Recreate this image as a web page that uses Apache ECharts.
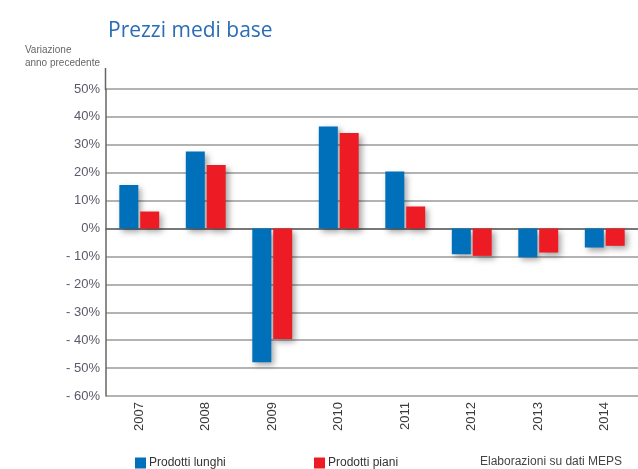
<!DOCTYPE html>
<html><head><meta charset="utf-8">
<script src="https://cdn.jsdelivr.net/npm/echarts@6/dist/echarts.min.js"></script>
<style>html,body{margin:0;padding:0;background:#fff}#c{width:638px;height:469px}</style>
</head><body><div id="c"></div>
<script>
const categories = ['2007','2008','2009','2010','2011','2012','2013','2014'];
const lunghi = [15.6, 27.6, -47.9, 36.6, 20.4, -9.2, -10.3, -6.8];
const piani = [6.1, 22.8, -39.6, 34.2, 7.9, -9.8, -8.6, -6.2];
const seriesNames = ['Prodotti lunghi', 'Prodotti piani'];
const yTicks = {min: -60, max: 50, interval: 10};

const FONT = '"Liberation Sans Narrow", "Liberation Sans", sans-serif';
const shadow = {shadowBlur: 6, shadowOffsetX: 3, shadowOffsetY: 3, shadowColor: 'rgba(0,0,0,0.35)'};
const chart = echarts.init(document.getElementById('c'));
chart.setOption({
  animation: false,
  title: {text: 'Prezzi medi base', left: 103, top: 16,
    textStyle: {fontFamily: '"Open Sans", sans-serif', fontWeight: 'normal', fontSize: 21, color: '#2a6db5'}},
  grid: {left: 106, right: 0, top: 89, bottom: 73},
  legend: [
    {data: [seriesNames[0]], left: 130, top: 452, icon: 'rect', itemWidth: 11, itemHeight: 11, itemGap: 4,
      textStyle: {fontFamily: FONT, fontSize: 12, color: '#333', padding: [0,0,0,-2]}},
    {data: [seriesNames[1]], left: 309, top: 452, icon: 'rect', itemWidth: 11, itemHeight: 11, itemGap: 4,
      textStyle: {fontFamily: FONT, fontSize: 12, color: '#333', padding: [0,0,0,-2]}}
  ],
  graphic: [
    {type: 'text', right: 538, top: 44, style: {text: 'Variazione\nanno precedente', align: 'right', fontFamily: FONT, fontSize: 10, lineHeight: 13, fill: '#666'}},
    {type: 'text', left: 480, top: 456, style: {text: 'Elaborazioni su dati MEPS', fontFamily: FONT, fontSize: 12, fill: '#444'}},
    {type: 'line', shape: {x1: 105.5, y1: 68, x2: 105.5, y2: 90}, style: {stroke: '#666', lineWidth: 1.5}}
  ],
  xAxis: {type: 'category', data: categories,
    axisLine: {lineStyle: {color: '#666', width: 1.5}}, axisTick: {show: false},
    axisLabel: {rotate: 90, margin: 6, fontFamily: FONT, fontSize: 13, color: '#3a3a3a'}},
  yAxis: {type: 'value', min: yTicks.min, max: yTicks.max, interval: yTicks.interval,
    axisLine: {show: true, lineStyle: {color: '#666', width: 1.5}}, axisTick: {show: false},
    splitLine: {lineStyle: {color: '#9a9a9a', width: 1.5}},
    axisLabel: {margin: 6, fontFamily: FONT, fontSize: 13, color: '#5a5a6a',
      formatter: v => v < 0 ? '- ' + Math.abs(v) + '%' : v + '%'}},
  series: [
    {name: seriesNames[0], type: 'bar', data: lunghi, barWidth: 19, barGap: '10%',
      itemStyle: Object.assign({color: '#0070bb'}, shadow)},
    {name: seriesNames[1], type: 'bar', data: piani, barWidth: 19,
      itemStyle: Object.assign({color: '#ed1c24'}, shadow)}
  ]
});
</script></body></html>
